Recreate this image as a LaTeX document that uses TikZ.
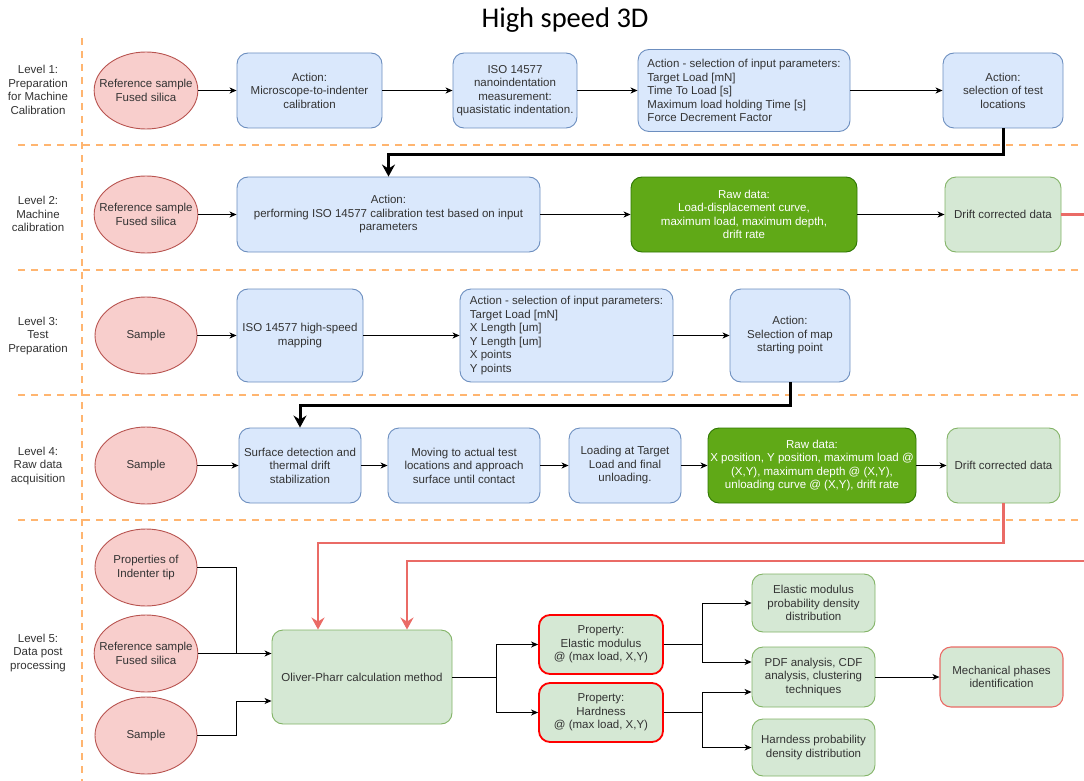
\documentclass[tikz,border=0pt]{standalone}
\usepackage{fontspec}
\setmainfont{Liberation Sans}
\newfontfamily\titlefont{Carlito}
\usetikzlibrary{arrows.meta,shapes.geometric,calc}

\definecolor{bluefill}{HTML}{DAE8FC}
\definecolor{blueline}{HTML}{6C8EBF}
\definecolor{redfill}{HTML}{F8CECC}
\definecolor{redline}{HTML}{B85450}
\definecolor{greenfill}{HTML}{D5E8D4}
\definecolor{greenline}{HTML}{82B366}
\definecolor{darkfill}{HTML}{60A917}
\definecolor{darkline}{HTML}{2D7600}
\definecolor{lanecol}{HTML}{FFB570}
\definecolor{flowred}{HTML}{EA6B66}
\definecolor{txt}{HTML}{333333}

\begin{document}
\begin{tikzpicture}[x=1pt,y=-1pt,
  every node/.style={font=\fontsize{11.5}{13.5}\selectfont, text=txt, align=center, inner sep=3pt},
  boxbase/.style={rectangle, rounded corners=11pt, line width=0.9pt},
  bluebox/.style={boxbase, draw=blueline, fill=bluefill},
  greenbox/.style={boxbase, draw=greenline, fill=greenfill},
  rawbox/.style={boxbase, draw=darkline, fill=darkfill, text=white},
  propbox/.style={boxbase, draw=red, line width=1.8pt, fill=greenfill},
  resultbox/.style={boxbase, draw=flowred, line width=1.1pt, fill=greenfill},
  source/.style={ellipse, draw=redline, fill=redfill, line width=0.9pt,
    minimum width=102pt, minimum height=77pt, inner xsep=-10pt, inner ysep=0pt},
  levellabel/.style={text=txt},
  lane/.style={draw=lanecol, line width=2.4pt, dash pattern=on 7pt off 6pt},
  flow/.style={draw=black, line width=0.9pt, -{Stealth[length=7pt,width=6pt,inset=2pt]}},
  link/.style={draw=black, line width=0.9pt},
  bigflow/.style={draw=black, line width=3pt, -{Stealth[length=12pt,width=13pt,inset=4pt]}},
  redflow/.style={draw=flowred, line width=2.5pt, -{Stealth[length=12pt,width=13pt,inset=4pt]}},
  redlink/.style={draw=flowred, line width=2.5pt},
]
\useasboundingbox (0,0) rectangle (1084,781);

% title
\node[font=\titlefont\fontsize{28.5}{30}\selectfont, text=black] (title) at (565,20) {High speed 3D};

% swim-lane separators
\draw[lane] (82,38) -- (82,781);
\foreach \yy in {145,270,395,520} \draw[lane] (18,\yy) -- (1084,\yy);

% lane labels
\node[levellabel] (lv1) at (38,90) {Level 1:\\Preparation\\for Machine\\Calibration};
\node[levellabel] (lv2) at (38,214) {Level 2:\\Machine\\calibration};
\node[levellabel] (lv3) at (38,336) {Level 3:\\Test\\Preparation};
\node[levellabel] (lv4) at (38,466) {Level 4:\\Raw data\\acquisition};
\node[levellabel] (lv5) at (38,653) {Level 5:\\Data post\\processing};

% ---- Level 1
\node[source] (ref1) at (146,90.5) {Reference sample\\Fused silica};
\node[bluebox, minimum width=145pt, minimum height=75pt] (act1) at (309.5,90.5) {Action:\\Microscope-to-indenter\\calibration};
\node[bluebox, minimum width=124pt, minimum height=75pt] (iso1) at (515,90.5) {ISO 14577\\nanoindentation\\measurement:\\quasistatic indentation.};
\node[bluebox, minimum width=212pt, minimum height=82pt, align=left] (par1) at (744,90.5)
  {Action - selection of input parameters:\\Target Load [mN]\\Time To Load [s]\\Maximum load holding Time [s]\\Force Decrement Factor};
\node[bluebox, minimum width=120pt, minimum height=75pt] (sel1) at (1003,90.5) {Action:\\selection of test\\locations};

\draw[flow] (ref1) -- (act1);
\draw[flow] (act1) -- (iso1);
\draw[flow] (iso1) -- (par1);
\draw[flow] (par1) -- (sel1);

% ---- Level 2
\node[source] (ref2) at (146,214.5) {Reference sample\\Fused silica};
\node[bluebox, minimum width=303pt, minimum height=75pt] (act2) at (388.5,214.5) {Action:\\performing ISO 14577 calibration test based on input\\parameters};
\node[rawbox, minimum width=226pt, minimum height=75pt] (raw2) at (744,214.5) {Raw data:\\Load-displacement curve,\\maximum load, maximum depth,\\drift rate};
\node[greenbox, minimum width=116pt, minimum height=75pt] (drift2) at (1003,214.5) {Drift corrected data};

\draw[bigflow] (sel1.south) -- ++(0,26.5) -| (act2.north);
\draw[flow] (ref2) -- (act2);
\draw[flow] (act2) -- (raw2);
\draw[flow] (raw2) -- (drift2);
\coordinate (edge2) at (1084,214.5);
\draw[redlink] (drift2.east) -- (edge2);

% ---- Level 3
\node[source] (samp3) at (146,335.5) {Sample};
\node[bluebox, minimum width=126pt, minimum height=93pt] (map3) at (300,335.5) {ISO 14577 high-speed\\mapping};
\node[bluebox, minimum width=213pt, minimum height=93pt, align=left] (par3) at (566.5,335.5)
  {Action - selection of input parameters:\\Target Load [mN]\\X Length [um]\\Y Length [um]\\X points\\Y points};
\node[bluebox, minimum width=120pt, minimum height=93pt] (sel3) at (790,335.5) {Action:\\Selection of map\\starting point};

\draw[flow] (samp3) -- (map3);
\draw[flow] (map3) -- (par3);
\draw[flow] (par3) -- (sel3);

% ---- Level 4
\node[source] (samp4) at (146,465.5) {Sample};
\node[bluebox, minimum width=122pt, minimum height=75pt] (surf4) at (300,465.5) {Surface detection and\\thermal drift\\stabilization};
\node[bluebox, minimum width=152pt, minimum height=75pt] (move4) at (464,465.5) {Moving to actual test\\locations and approach\\surface until contact};
\node[bluebox, minimum width=112pt, minimum height=75pt] (load4) at (625,465.5) {Loading at Target\\Load and final\\unloading.};
\node[rawbox, minimum width=208pt, minimum height=75pt, inner xsep=1pt] (raw4) at (812,465.5) {Raw data:\\X position, Y position, maximum load @\\(X,Y), maximum depth @ (X,Y),\\unloading curve @ (X,Y), drift rate};
\node[greenbox, minimum width=113pt, minimum height=75pt] (drift4) at (1003.5,465.5) {Drift corrected data};

\draw[bigflow] (sel3.south) -- ++(0,23) -| (surf4.north);
\draw[flow] (samp4) -- (surf4);
\draw[flow] (surf4) -- (move4);
\draw[flow] (move4) -- (load4);
\draw[flow] (load4) -- (raw4);
\draw[flow] (raw4) -- (drift4);

% ---- Level 5
\node[source] (tip5) at (146,567.5) {Properties of\\Indenter tip};
\node[source] (ref5) at (146,653.5) {Reference sample\\Fused silica};
\node[source] (samp5) at (146,735.5) {Sample};
\node[greenbox, minimum width=180pt, minimum height=94pt] (op) at (362,677) {Oliver-Pharr calculation method};
\node[propbox, minimum width=124pt, minimum height=59pt] (em5) at (601,644.5) {Property:\\Elastic modulus\\@ (max load, X,Y)};
\node[propbox, minimum width=124pt, minimum height=59pt] (hard5) at (601,712.5) {Property:\\Hardness\\@ (max load, X,Y)};
\node[greenbox, minimum width=123pt, minimum height=58pt] (emd5) at (813.5,603) {Elastic modulus\\probability density\\distribution};
\node[greenbox, minimum width=123pt, minimum height=60pt] (pdf5) at (813.5,677) {PDF analysis, CDF\\analysis, clustering\\techniques};
\node[greenbox, minimum width=123pt, minimum height=57pt] (hd5) at (813.5,747.5) {Harndess probability\\density distribution};
\node[resultbox, minimum width=123pt, minimum height=60pt] (mech5) at (1001.5,677) {Mechanical phases\\identification};

% inputs to the calculation
\coordinate (jin) at (236,653.5);
\draw[link] (tip5.east) -| (jin);
\draw[flow] (ref5.east) -- (ref5.east -| op.west);
\draw[flow] (samp5.east) -| (jin |- 0,701) -- ([yshift=-24pt]op.west);

% drift corrected data feeding the calculation
\coordinate (r1) at (318,543);
\draw[redflow] (drift4.south) |- (r1) -- (r1 |- op.north);
\coordinate (edge5) at (1084,561);
\draw[redflow] (edge5) -| ([xshift=45pt]op.north);

% calculation to properties
\coordinate (s1) at (496,677);
\draw[link] (op.east) -- (s1);
\draw[flow] (s1) |- (em5.west);
\draw[flow] (s1) |- (hard5.west);

% properties to statistics
\coordinate (s2) at (702,644.5);
\coordinate (s3) at (702,712.5);
\draw[link] (em5.east) -- (s2);
\draw[flow] (s2) |- (emd5.west);
\draw[flow] (s2) |- ([yshift=15pt]pdf5.west);
\draw[link] (hard5.east) -- (s3);
\draw[flow] (s3) |- ([yshift=-15pt]pdf5.west);
\draw[flow] (s3) |- (hd5.west);

\draw[flow] (pdf5) -- (mech5);
\end{tikzpicture}
\end{document}
